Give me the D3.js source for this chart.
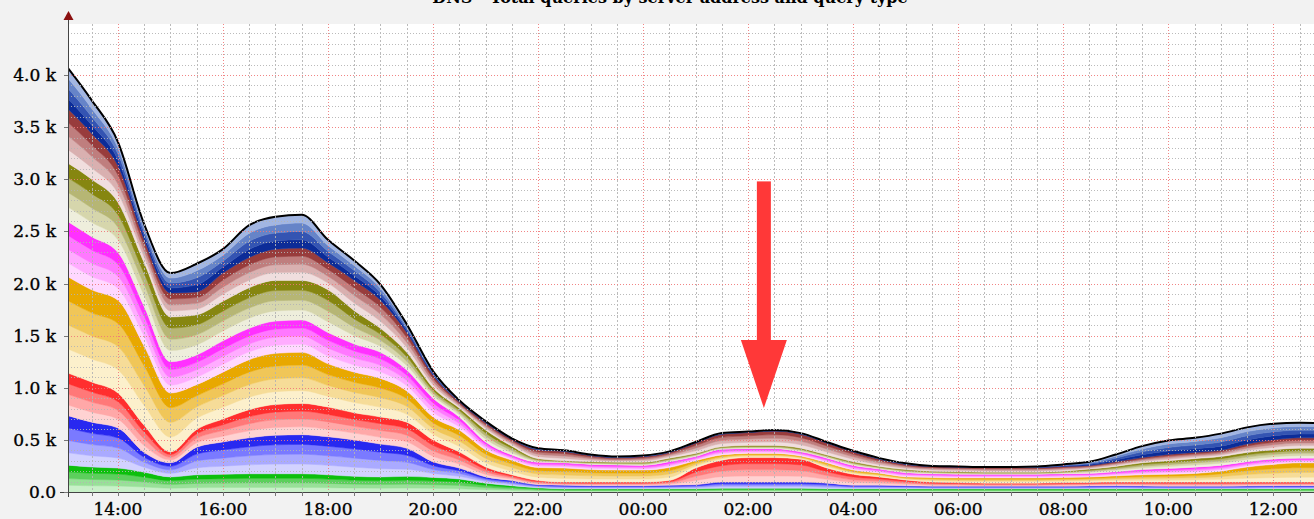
<!DOCTYPE html>
<html>
<head>
<meta charset="utf-8">
<script src="https://cdn.jsdelivr.net/npm/d3@7"></script>
<style>
  body { margin: 0; background: #f2f2f2; }
  svg { display: block; }
  text { font-family: "DejaVu Serif", serif; fill: #000; }
</style>
</head>
<body>
<svg width="1314" height="519"></svg>
<script>
// half-hour samples, 13:00 -> 13:00 next day
const times = ["13:00","13:30","14:00","14:30","15:00","15:30","16:00","16:30","17:00","17:30",
  "18:00","18:30","19:00","19:30","20:00","20:30","21:00","21:30","22:00","22:30",
  "23:00","23:30","00:00","00:30","01:00","01:30","02:00","02:30","03:00","03:30",
  "04:00","04:30","05:00","05:30","06:00","06:30","07:00","07:30","08:00","08:30",
  "09:00","09:30","10:00","10:30","11:00","11:30","12:00","12:30","13:00"];

// group totals per sample (stack order: bottom -> top)
const green = [260,240,230,190,145,165,170,175,175,175, 165,150,145,150,140,125,85,60,40,30,
  30,30,30,30,30,35,35,35,35,30, 30,30,30,30,30,30,30,30,30,30, 30,30,30,30,30,30,30,30,30];
const blue = [480,430,385,190,135,265,310,345,370,375, 365,350,315,270,150,105,60,50,30,35,
  30,30,30,35,40,60,60,60,60,55, 35,35,30,25,25,25,25,25,25,28, 30,28,25,25,25,28,30,30,30];
const red = [410,385,335,260,105,170,220,270,295,300, 285,260,260,250,210,155,95,55,40,30,
  35,35,35,45,160,210,235,235,220,145, 105,80,55,40,35,30,30,30,35,34, 35,37,40,40,40,37,35,35,35];
const gold = [930,885,890,760,565,430,450,480,490,490, 415,390,370,300,220,210,165,140,125,135,
  120,115,115,125,70,50,40,40,30,50, 40,35,30,45,45,50,50,50,50,51, 60,70,75,83,105,145,170,185,185];
const magenta = [530,510,460,380,300,285,300,300,310,310, 300,270,250,200,180,125,75,50,50,50,
  50,50,45,55,40,55,45,45,40,45, 45,40,40,35,35,35,35,35,35,35, 40,50,55,60,55,50,50,45,45];
const olive = [560,550,480,420,430,385,380,390,390,380, 410,320,230,170,100,85,115,85,35,20,
  25,25,30,35,30,25,30,30,35,30, 35,25,30,25,25,20,20,20,25,42, 50,65,75,82,85,90,90,95,95];
const maroon = [530,440,350,220,230,220,270,290,300,310, 260,290,270,190,120,60,70,65,85,90,
  60,45,55,55,100,120,125,140,135,115, 95,70,50,45,45,45,45,45,45,35, 45,50,60,60,60,80,95,100,100];
const navy = [400,320,230,150,190,270,230,310,310,320, 220,190,150,80,40,15,15,10,15,10,
  10,10,10,10,10,10,10,10,10,10, 10,10,10,5,5,5,5,10,20,35, 70,110,135,140,160,160,155,145,140];

// each group is drawn as 4 equal shaded sub-bands
const shadeShare = [0.25, 0.25, 0.25, 0.25];

const groups = [
  {name: "green",   values: green,   shades: ["#c8f0c8","#98e098","#5ccf5c","#0cbf0c"]},
  {name: "blue",    values: blue,    shades: ["#d2d2ff","#aaaaff","#7a7aff","#2828f0"]},
  {name: "red",     values: red,     shades: ["#ffd2d2","#ffa8a8","#ff7878","#ff2e2e"]},
  {name: "gold",    values: gold,    shades: ["#fcf0cc","#f6dc98","#f0c658","#e8a800"]},
  {name: "magenta", values: magenta, shades: ["#ffd8ff","#ffacff","#ff78ff","#ff30ff"]},
  {name: "olive",   values: olive,   shades: ["#eeeedc","#d6d6ac","#b6b674","#868610"]},
  {name: "maroon",  values: maroon,  shades: ["#f0dede","#d9b0b0","#bf7e7e","#983c3c"]},
  {name: "navy",    values: navy,    shades: ["#0c2c98","#3454b2","#6684c8","#a2b6e2"]}
];

const yTicks = [0, 500, 1000, 1500, 2000, 2500, 3000, 3500, 4000];
const title = "DNS - Total queries by server address and query type";

const svg = d3.select("svg");
const pLeft = 68, pRight = 1314, pTop = 24, pBottom = 492;

// parse times, rolling over midnight
let day = 1, prevH = -1;
const dates = times.map(s => {
  const [h, m] = s.split(":").map(Number);
  if (h < prevH) day += 1;
  prevH = h;
  return new Date(2024, 0, day, h, m);
});

const x = d3.scaleTime()
  .domain([new Date(2024, 0, 1, 13, 3), new Date(2024, 0, 2, 12, 46, 30)])
  .range([pLeft, pRight]);
const y = d3.scaleLinear().domain([0, 4490]).range([pBottom, pTop]);

// build table rows for the stack
const keys = [];
groups.forEach(g => g.shades.forEach((c, j) => keys.push({key: g.name + j, color: c, g, j})));
const rows = dates.map((d, i) => {
  const r = {date: d};
  keys.forEach(k => { r[k.key] = k.g.values[i] * shadeShare[k.j]; });
  return r;
});
const series = d3.stack().keys(keys.map(k => k.key))(rows);

// plot background
svg.append("rect").attr("x", pLeft).attr("y", pTop)
  .attr("width", pRight - pLeft).attr("height", pBottom - pTop).attr("fill", "#fff");

svg.append("clipPath").attr("id", "plot")
  .append("rect").attr("x", pLeft).attr("y", pTop).attr("width", pRight - pLeft).attr("height", pBottom - pTop);

const plot = svg.append("g").attr("clip-path", "url(#plot)");

const area = d3.area()
  .x((d, i) => x(dates[i]))
  .y0(d => y(d[0]))
  .y1(d => y(d[1]))
  .curve(d3.curveMonotoneX);

plot.selectAll("path.band")
  .data(series)
  .join("path")
  .attr("class", "band")
  .attr("fill", (d, i) => keys[i].color)
  .attr("stroke", (d, i) => keys[i].color)
  .attr("stroke-width", 0.5)
  .attr("d", area);

// outline on the total
const topSeries = series[series.length - 1];
plot.append("path")
  .datum(topSeries)
  .attr("fill", "none")
  .attr("stroke", "#000")
  .attr("stroke-width", 2)
  .attr("d", d3.line().x((d, i) => x(dates[i])).y(d => y(d[1])).curve(d3.curveMonotoneX));

// grid on top of the graph, rrd style
const grid = svg.append("g").attr("clip-path", "url(#plot)").attr("opacity", 0.9);
const minorY = d3.range(100, 4500, 100).filter(v => v % 500 !== 0);
grid.selectAll("line.my").data(minorY).join("line")
  .attr("x1", pLeft).attr("x2", pRight).attr("y1", d => Math.round(y(d)) + 0.5).attr("y2", d => Math.round(y(d)) + 0.5)
  .attr("stroke", "#b4b4b4").attr("stroke-dasharray", "1,2");
const minorX = x.ticks(d3.timeMinute.every(30)).filter(d => !(d.getMinutes() === 0 && d.getHours() % 2 === 0));
grid.selectAll("line.mx").data(minorX).join("line")
  .attr("x1", d => Math.round(x(d)) + 0.5).attr("x2", d => Math.round(x(d)) + 0.5)
  .attr("y1", pTop).attr("y2", pBottom)
  .attr("stroke", "#b4b4b4").attr("stroke-dasharray", "2,2");
grid.selectAll("line.My").data(yTicks.slice(1)).join("line")
  .attr("x1", pLeft).attr("x2", pRight).attr("y1", d => Math.round(y(d)) + 0.5).attr("y2", d => Math.round(y(d)) + 0.5)
  .attr("stroke", "#f07878").attr("stroke-dasharray", "1,2");
const majorX = x.ticks(d3.timeHour.every(2));
grid.selectAll("line.Mx").data(majorX).join("line")
  .attr("x1", d => Math.round(x(d)) + 0.5).attr("x2", d => Math.round(x(d)) + 0.5)
  .attr("y1", pTop).attr("y2", pBottom)
  .attr("stroke", "#f07878").attr("stroke-dasharray", "1,2");

// axes
const axis = svg.append("g").attr("stroke", "#444");
axis.append("line").attr("x1", pLeft - 8).attr("x2", pRight).attr("y1", pBottom + 0.5).attr("y2", pBottom + 0.5);
axis.append("line").attr("x1", pLeft + 0.5).attr("x2", pLeft + 0.5).attr("y1", 16).attr("y2", pBottom + 5);
axis.selectAll("line.tx").data(minorX.concat(majorX)).join("line")
  .attr("x1", d => Math.round(x(d)) + 0.5).attr("x2", d => Math.round(x(d)) + 0.5)
  .attr("y1", pBottom).attr("y2", pBottom + 4).attr("stroke", "#777");
axis.selectAll("line.ty").data(yTicks).join("line")
  .attr("x1", pLeft - 4).attr("x2", pLeft).attr("y1", d => Math.round(y(d)) + 0.5).attr("y2", d => Math.round(y(d)) + 0.5)
  .attr("stroke", "#777");
svg.append("path").attr("d", `M${pLeft - 4.5},20 L${pLeft + 5.5},20 L${pLeft + 0.5},11 Z`).attr("fill", "#8b1010");

// labels
const fmt = v => v === 0 ? "0.0" : d3.format(".1f")(v / 1000) + " k";
svg.selectAll("text.yl").data(yTicks).join("text")
  .attr("x", 56).attr("y", d => y(d) + 6)
  .attr("text-anchor", "end").attr("font-size", 17)
  .attr("stroke", "#000").attr("stroke-width", 0.35)
  .text(fmt);
svg.selectAll("text.xl").data(majorX).join("text")
  .attr("x", d => x(d)).attr("y", 515)
  .attr("text-anchor", "middle").attr("font-size", 17)
  .attr("stroke", "#000").attr("stroke-width", 0.35)
  .text(d3.timeFormat("%H:%M"));

svg.append("text").attr("x", 670).attr("y", 3).attr("text-anchor", "middle")
  .attr("font-size", 16).attr("font-weight", "bold").text(title);

// red annotation arrow
const arrowAt = new Date(2024, 0, 2, 2, 18);
const ax = x(arrowAt), yStart = y(2980), yTip = y(805);
svg.append("rect").attr("x", ax - 7).attr("y", yStart).attr("width", 14).attr("height", yTip - 64 - yStart)
  .attr("fill", "#ff3838");
svg.append("path")
  .attr("d", `M${ax - 23},${yTip - 68} L${ax + 23},${yTip - 68} L${ax},${yTip} Z`)
  .attr("fill", "#ff3838");
</script>
</body>
</html>
